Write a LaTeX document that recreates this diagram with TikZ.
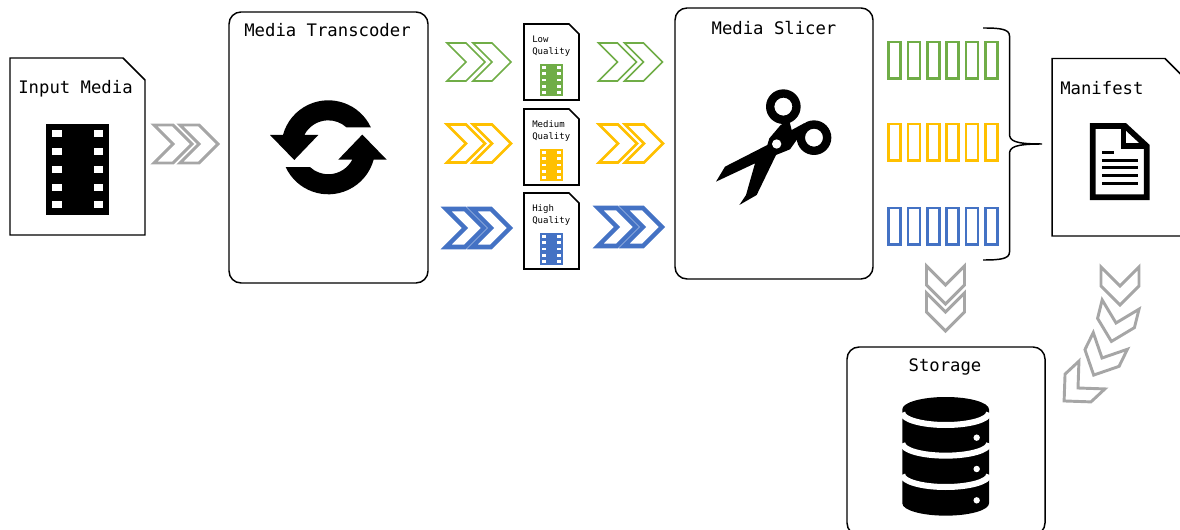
\documentclass[tikz,border=0pt]{standalone}
\usepackage{fontspec}
\setmonofont{DejaVu Sans Mono}
\definecolor{chevgray}{HTML}{A6A6A6}
\definecolor{lowgreen}{HTML}{70AD47}
\definecolor{medyellow}{HTML}{FFC000}
\definecolor{highblue}{HTML}{4472C4}
\tikzset{
  lab/.style={font=\ttfamily\fontsize{12.95}{15}\selectfont, inner sep=0pt},
  smalllab/.style={font=\ttfamily\fontsize{6.75}{9}\selectfont, inner sep=0pt, align=left, anchor=west},
  roundbox/.style={draw, rounded corners=9pt, line width=1.1pt, inner sep=0pt},
  segbox/.style={draw, line width=1.9pt, minimum width=9pt, minimum height=27.4pt, inner sep=0pt},
  pics/chevron/.style={code={
    \draw (-19,-19) -- (0,-19) -- (19,0) -- (0,19) -- (-19,19) -- (0,0) -- cycle;}},
  pics/filmicon/.style={code={
    \fill (-31.5,-45.5) rectangle (31.5,45.5);
    \foreach \rowy in {-35.5,-17.7,0,17.7,35.5} {
      \fill[white] (-25.5,\rowy-3.5) rectangle (-16,\rowy+3.5);
      \fill[white] (16,\rowy-3.5) rectangle (25.5,\rowy+3.5);
    }}},
  pics/docbox/.style n args={3}{code={
    \draw[line join=miter] (0,0) -- (#1-#3,0) -- (#1,#3) -- (#1,#2) -- (0,#2) -- cycle;}},
  pics/refreshhalf/.style={code={
    \fill (25:35.25pt) arc[start angle=25, end angle=164.8, radius=35.25pt]
      -- (-58.3,-12.3) -- (-34,12.7) -- (-10,-12.3) -- (-24,-12.3)
      arc[start angle=152.8, end angle=47.5, radius=20.25pt] -- cycle;}}
}
\begin{document}
\begin{tikzpicture}[x=.75pt, y=-.75pt]
  \useasboundingbox (0,0) rectangle (1180,530);

  \pic[line width=1.1pt] at (10,58) {docbox={135}{177}{22}};
  \node[lab] (inputlab) at (75.5,88.5) {Input Media};
  \pic at (77.5,169.5) {filmicon};

  \node[roundbox, minimum width=149.25pt, minimum height=203.25pt] (transcoder) at (328.5,147.5) {};
  \node[lab] (transcoderlab) at (327.5,30.5) {Media Transcoder};
  \pic at (328.3,147.3) {refreshhalf};
  \pic[rotate=180] at (328.3,147.3) {refreshhalf};

  \foreach \cx/\cy/\col/\wd in {186/144/chevgray/2.2pt, 479/62/lowgreen/1.2pt, 630.5/62/lowgreen/1.2pt,
      479/143.5/medyellow/1.9pt, 631/143.5/medyellow/1.9pt, 478/228/highblue/3.4pt, 630/227/highblue/3.4pt} {
    \pic[color=\col, line width=\wd] at (\cx-13,\cy) {chevron};
    \pic[color=\col, line width=\wd] at (\cx+13,\cy) {chevron};
  }

  \foreach \name/\txt/\topy/\col in {low/Low/24/lowgreen, medium/Medium/109/medyellow, high/High/193/highblue} {
    \pic[line width=1.3pt] at (524,\topy) {docbox={55}{76}{10}};
    \node[smalllab] (\name lab) at (532,\topy+22) {\txt\\Quality};
    \pic[color=\col, scale=.355] at (551.5,\topy+56) {filmicon};
  }

  \node[roundbox, minimum width=148.5pt, minimum height=203.25pt] (slicer) at (774,143.5) {};
  \node[lab] (slicerlab) at (774,28) {Media Slicer};
  \begin{scope}[shift={(690,70)}, x=.25pt, y=-.25pt]
    \fill[even odd rule] (280,110) circle[radius=13pt] (280,110) circle[radius=6.75pt];
    \fill[even odd rule] (372,203) circle[radius=13pt] (372,203) circle[radius=6.75pt];
    \fill (78,335) -- (105,290) -- (232,225) -- (238,205) -- (272,165) -- (298,152) -- (305,180)
      -- (342,160) -- (338,190) -- (320,210) -- (300,238) -- (258,255) -- (200,375) -- (148,405)
      -- (168,375) -- (195,280) -- cycle;
    \fill[white] (260,222) circle[radius=3.5pt];
  \end{scope}

  \foreach \rowy/\col/\name in {60.5/lowgreen/low, 142.5/medyellow/med, 226.5/highblue/high} {
    \foreach \i in {0,...,5} {
      \node[segbox, draw=\col] (seg\name\i) at (894.5+19.4*\i,\rowy) {};
    }
  }

  \draw[line width=1.1pt] (983,28) .. controls (1000,28) and (1009.5,29) .. (1009.5,36)
    -- (1009.5,134) .. controls (1009.5,141) and (1015,144) .. (1042,144)
    .. controls (1015,144) and (1009.5,147) .. (1009.5,154)
    -- (1009.5,252) .. controls (1009.5,259) and (1000,260) .. (983,260);

  \pic[line width=1.1pt] at (1052,58.5) {docbox={135}{177.5}{22}};
  \node[lab, anchor=west] (manifestlab) at (1060,88) {Manifest};
  \begin{scope}[shift={(870,10)}, x=.25pt, y=-.25pt]
    \draw[line width=4.25pt, line join=miter] (668,348) -- (765,348) -- (830,408) -- (830,562) -- (668,562) -- cycle;
    \draw[line width=4.25pt] (760,348) -- (760,408) -- (830,408);
    \fill (695,424) rectangle (733,433);
    \foreach \rowy in {452,474,497,520} {
      \fill (695,\rowy-4.5) rectangle (805,\rowy+4.5);
    }
  \end{scope}

  \pic[color=chevgray, line width=2.2pt, rotate=-90] at (945.5,285) {chevron};
  \pic[color=chevgray, line width=2.2pt, rotate=-90] at (945.5,312) {chevron};

  \foreach \nx/\ny/\ang in {1120/286/90, 1116/323/104, 1102/358/116, 1078/388/137} {
    \pic[color=chevgray, line width=2.2pt, rotate=-\ang] at (\nx,\ny) {chevron};
  }

  \node[roundbox, minimum width=148.5pt, minimum height=141pt] (storage) at (946,441) {};
  \node[lab] (storagelab) at (945,367) {Storage};
  \begin{scope}[shift={(840,255)}, x=.25pt, y=-.25pt]
    \fill (187,463) arc[start angle=180, end angle=0, x radius=32.5pt, y radius=9.25pt]
      -- (447,745) arc[start angle=360, end angle=180, x radius=32.5pt, y radius=9.25pt] -- cycle;
    \foreach \arcy in {473,565,659} {
      \draw[white, line width=4.5pt] (187,\arcy) arc[start angle=180, end angle=360, x radius=32.5pt, y radius=9.25pt];
    }
    \foreach \rowy in {548,642,736} {
      \fill[white] (410,\rowy) circle[radius=2.4pt];
    }
  \end{scope}
\end{tikzpicture}
\end{document}
